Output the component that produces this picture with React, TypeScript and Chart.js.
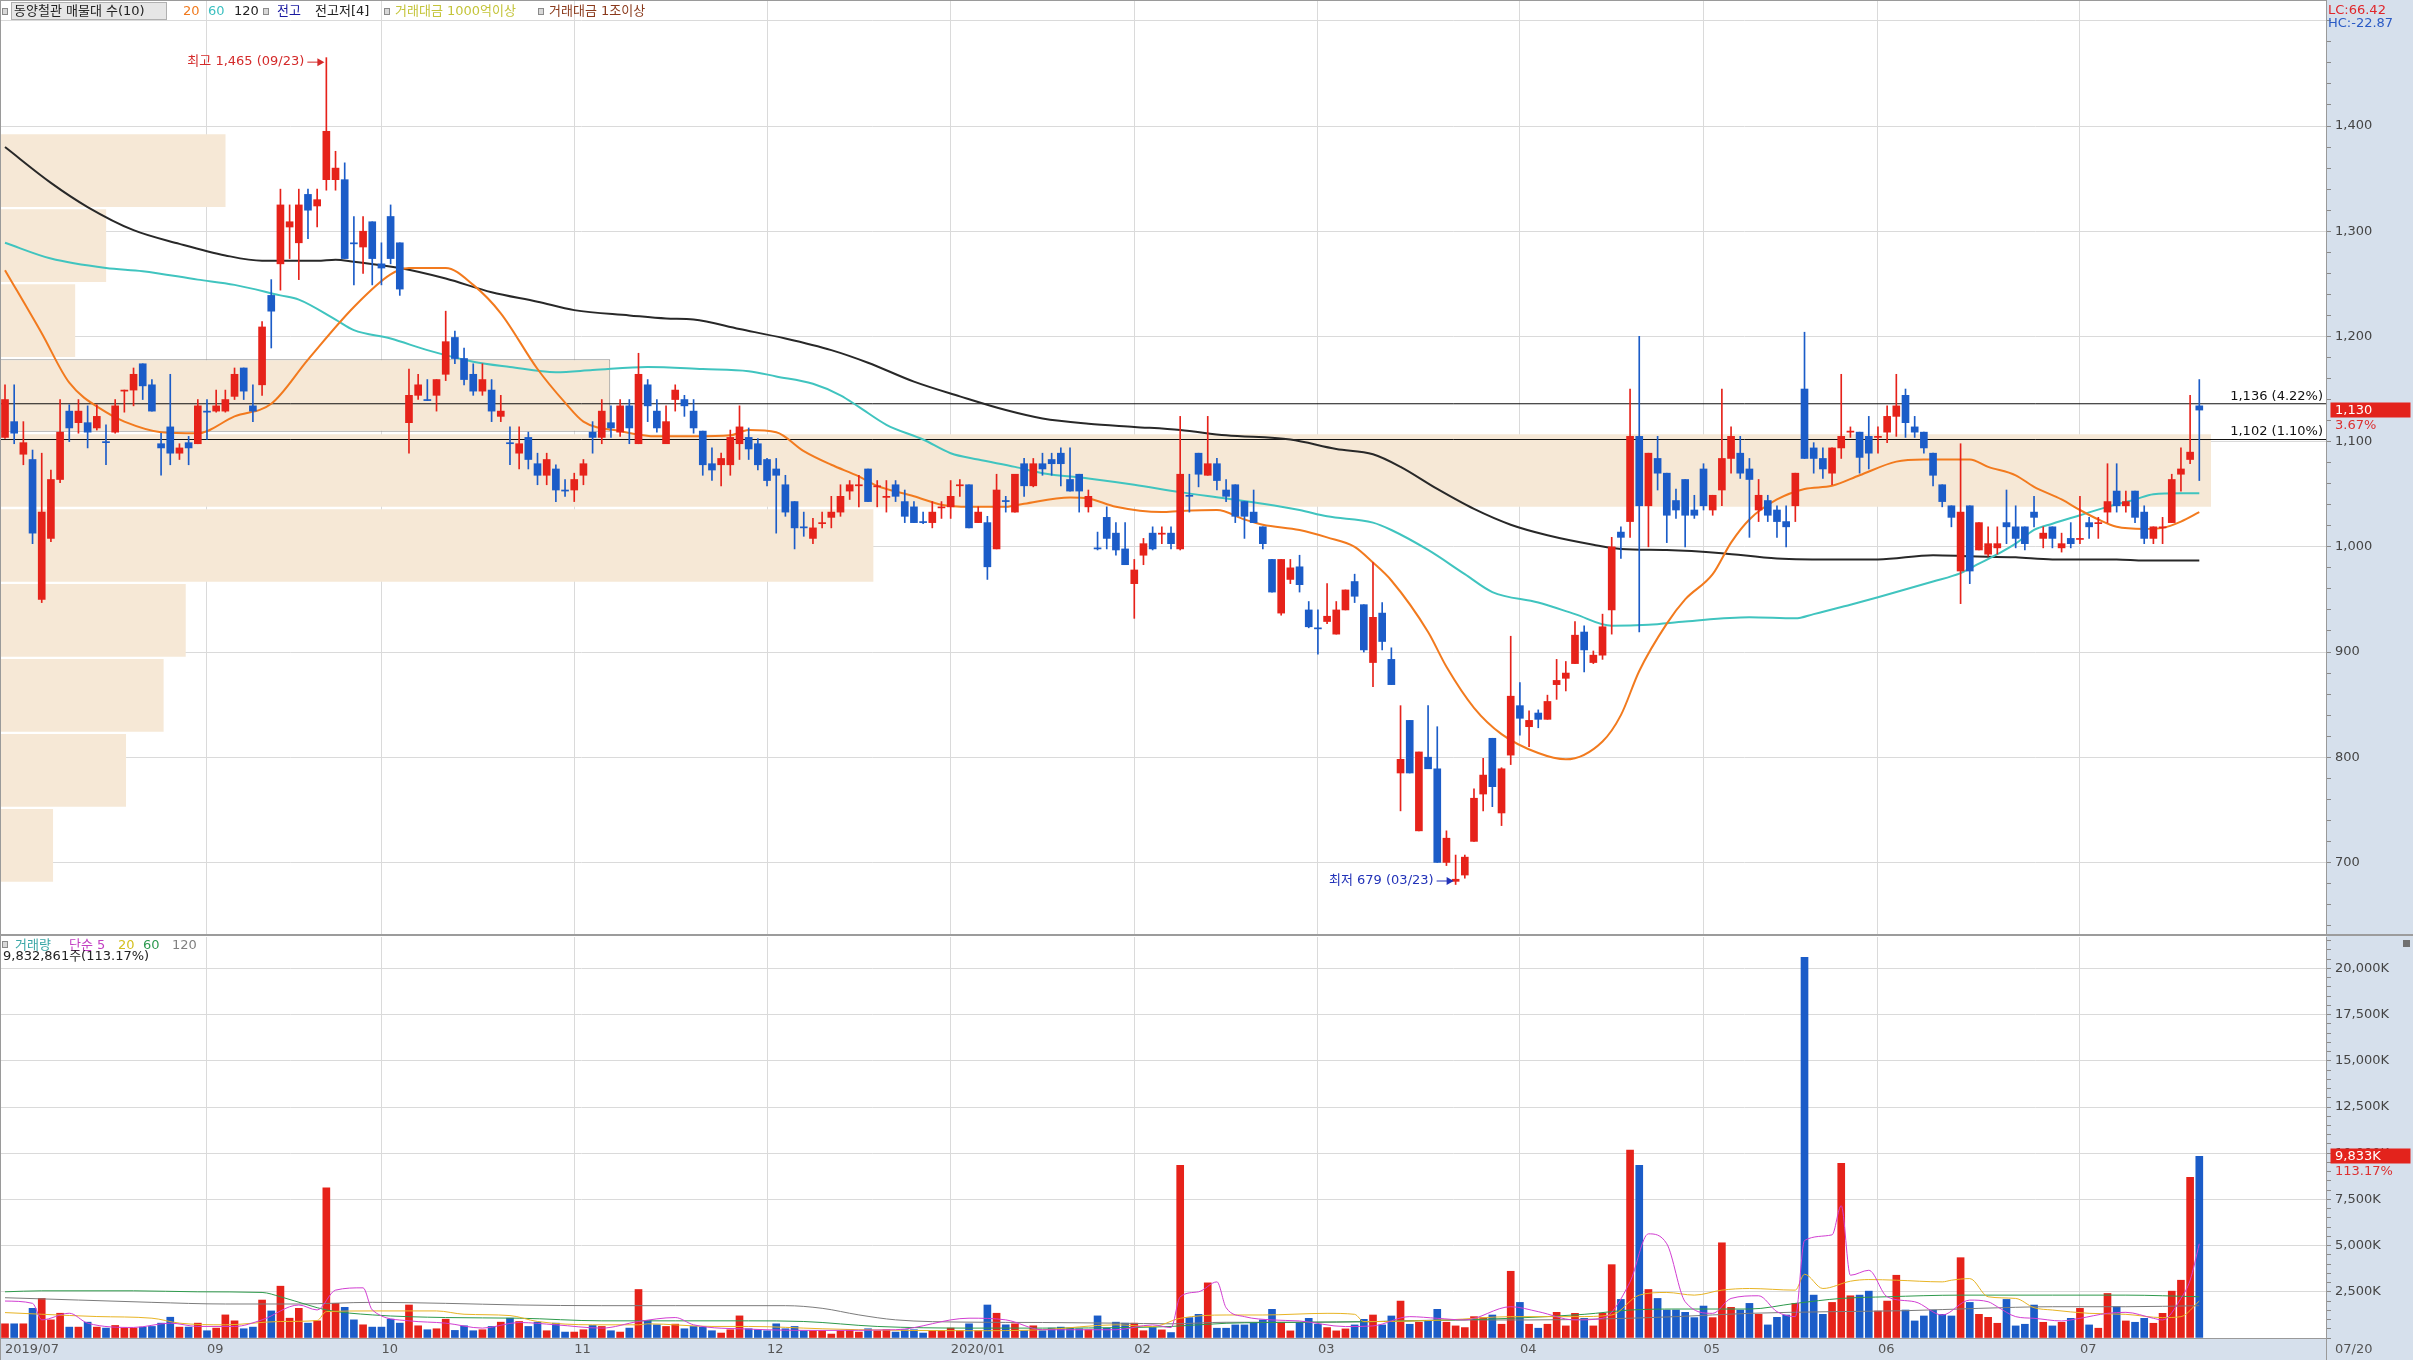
import React, { useEffect, useRef } from 'react';
import { Chart, registerables } from 'chart.js';

Chart.register(...registerables);

// ================= DATA =================
// trading-day index 0 = 2019/07/31 ... 239 = 2020/07/20
const opens = [1104,1119,1088,1083,950,1008,1064,1129,1118,1118,1113,1100,1109,1148,1149,1174,1154,1098,1114,1089,1099,1098,1129,1129,1129,1143,1170,1134,1154,1239,1269,1304,1289,1335,1324,1349,1349,1349,1289,1285,1309,1269,1314,1289,1118,1144,1140,1144,1164,1199,1179,1164,1148,1149,1124,1099,1089,1104,1079,1068,1074,1054,1054,1068,1109,1104,1118,1109,1134,1098,1154,1129,1098,1140,1140,1129,1110,1079,1078,1078,1098,1104,1098,1083,1074,1059,1043,1019,1008,1022,1028,1033,1053,1058,1074,1057,1047,1059,1043,1038,1024,1023,1037,1038,1058,1059,1023,1023,998,1044,1033,1079,1058,1079,1083,1089,1064,1069,1038,999,1028,1013,998,965,992,1013,1012,1013,998,1049,1089,1068,1079,1054,1059,1043,1033,1019,988,937,969,981,940,923,929,917,940,967,945,890,937,893,785,835,730,800,789,700,682,688,720,765,818,747,802,849,829,842,836,869,875,889,919,890,897,940,1014,1024,1105,1039,1084,1070,1044,1064,1035,1074,1035,1054,1084,1089,1074,1035,1044,1035,1024,1039,1150,1094,1084,1070,1094,1109,1109,1105,1104,1109,1124,1144,1114,1109,1089,1059,1039,977,1039,997,993,999,1023,1019,1019,1033,1008,1019,999,1008,1007,1023,1022,1033,1053,1039,1053,1033,1008,1018,1023,1069,1083,1134];
const highs = [1154,1154,1119,1092,1089,1073,1140,1135,1140,1134,1135,1116,1140,1149,1170,1174,1159,1108,1164,1098,1105,1140,1140,1149,1149,1170,1170,1154,1214,1254,1340,1325,1340,1340,1340,1465,1376,1365,1314,1314,1309,1289,1325,1289,1169,1164,1159,1159,1224,1205,1189,1174,1174,1159,1144,1114,1114,1109,1089,1089,1078,1064,1070,1083,1119,1140,1134,1140,1140,1184,1159,1140,1134,1154,1144,1140,1110,1094,1089,1111,1134,1113,1103,1084,1084,1068,1043,1033,1027,1033,1048,1059,1063,1068,1074,1063,1063,1063,1054,1043,1033,1043,1043,1063,1064,1059,1038,1029,1069,1048,1069,1084,1084,1089,1089,1094,1094,1069,1054,1014,1038,1023,1023,988,1008,1019,1019,1019,1124,1069,1089,1124,1084,1064,1059,1043,1054,1019,988,988,988,992,948,940,965,948,959,974,945,985,947,904,849,835,805,849,829,730,707,707,770,799,818,790,915,871,844,845,859,893,891,929,925,901,936,1009,1019,1150,1200,1089,1105,1070,1055,1064,1049,1079,1049,1150,1114,1105,1084,1064,1049,1039,1039,1070,1204,1099,1094,1094,1164,1114,1109,1124,1114,1134,1164,1150,1124,1109,1089,1059,1039,1098,1039,1023,1019,1019,1054,1039,1019,1048,1019,1019,1013,1023,1048,1028,1028,1079,1079,1053,1053,1039,1019,1028,1069,1094,1144,1159];
const lows = [1103,1098,1078,1003,947,1005,1061,1100,1108,1094,1111,1078,1108,1128,1134,1140,1129,1068,1078,1083,1078,1098,1102,1128,1128,1140,1140,1119,1144,1189,1244,1274,1254,1293,1304,1339,1339,1274,1249,1260,1249,1249,1269,1239,1089,1140,1139,1129,1158,1174,1154,1144,1144,1119,1119,1078,1074,1074,1059,1059,1043,1048,1043,1059,1089,1098,1104,1105,1098,1098,1119,1109,1098,1129,1124,1108,1068,1063,1058,1068,1083,1083,1073,1058,1013,1029,998,1010,1003,1018,1018,1029,1045,1038,1043,1038,1033,1043,1023,1023,1022,1018,1027,1027,1048,1018,1023,969,998,1033,1033,1048,1057,1068,1068,1058,1053,1033,1033,997,998,992,983,932,983,997,1003,998,997,1033,1057,1068,1054,1043,1023,1008,1023,998,957,935,965,957,923,898,927,917,940,947,900,867,902,869,749,785,730,789,700,697,679,685,720,749,753,735,793,821,810,828,836,855,863,889,881,889,893,917,989,1009,919,1000,1054,1004,1027,1000,1027,1035,1030,1039,1070,1065,1009,1024,1024,1009,1000,1024,1084,1070,1065,1059,1084,1104,1070,1074,1089,1099,1105,1104,1104,1089,1058,1038,1019,946,965,997,991,993,1003,999,997,1019,999,999,995,999,1003,1008,1008,1023,1033,1033,1023,1003,1003,1003,1023,1053,1079,1063];
const closes = [1140,1108,1099,1013,1033,1064,1109,1113,1129,1109,1124,1099,1134,1149,1164,1153,1129,1094,1089,1094,1094,1134,1128,1134,1140,1164,1148,1129,1209,1224,1325,1309,1325,1320,1330,1395,1360,1274,1288,1300,1274,1265,1274,1245,1144,1154,1139,1159,1195,1179,1159,1148,1159,1129,1129,1098,1098,1083,1068,1083,1054,1053,1064,1079,1104,1129,1113,1134,1113,1164,1134,1113,1119,1149,1134,1113,1078,1073,1084,1104,1114,1093,1078,1063,1068,1033,1018,1018,1018,1023,1033,1048,1059,1059,1043,1058,1048,1048,1029,1023,1023,1033,1038,1048,1059,1018,1033,981,1054,1043,1069,1058,1079,1074,1079,1079,1053,1053,1048,998,1008,997,983,978,1003,998,1013,1003,1069,1048,1069,1079,1063,1048,1029,1029,1023,1003,957,988,980,964,924,922,934,940,959,953,902,933,910,869,798,785,805,789,700,723,684,705,761,783,772,789,858,837,835,836,853,873,880,916,902,897,924,1000,1009,1105,1039,1089,1070,1030,1035,1030,1030,1039,1049,1084,1105,1070,1064,1049,1030,1024,1019,1070,1084,1084,1074,1094,1105,1110,1085,1089,1105,1124,1134,1118,1109,1094,1068,1043,1028,1033,977,1023,1003,1003,1019,1008,1003,1028,1013,1008,1003,1003,1008,1019,1023,1043,1039,1043,1028,1008,1019,1019,1064,1074,1090,1130];
// volume in thousand shares
const volumes = [768,768,768,1607,2143,982,1340,589,589,857,589,536,679,536,536,589,625,804,1125,589,589,804,393,536,1250,929,500,589,2054,1465,2804,1072,1607,804,929,8126,1875,1661,982,714,589,589,1018,804,1786,661,447,500,1018,411,661,393,447,625,857,1072,893,625,857,393,804,321,321,447,679,625,393,321,536,2625,947,714,625,750,500,625,589,393,268,447,1197,500,447,393,768,500,625,393,393,393,214,393,447,321,500,393,447,321,447,447,268,393,393,536,393,768,393,1786,1340,714,768,393,661,393,536,589,536,500,447,1197,536,857,804,804,393,564,439,296,9345,1102,1281,2984,529,529,708,708,797,977,1550,851,385,851,1066,744,564,385,493,708,1012,1245,708,1192,1998,744,851,923,1550,851,654,564,1156,1102,1245,744,3611,1926,744,529,744,1389,654,1335,1066,654,1335,3969,2088,10169,9345,2625,2141,1514,1514,1389,1102,1729,1102,5152,1658,1514,1873,1281,708,1120,1245,1873,20600,2321,1281,1926,9453,2285,2321,2536,1460,1998,3396,1514,923,1192,1514,1281,1192,4346,1926,1281,1120,797,2088,654,744,1783,851,654,851,1066,1604,708,529,2410,1693,923,851,1066,797,1335,2536,3127,8689,9833];

// moving averages: [day index, value]
const ma20 = [[0,1263],[4,1203],[7,1156],[11,1128],[13,1119],[17,1109],[21,1108],[25,1124],[29,1136],[33,1178],[38,1228],[42,1259],[44,1265],[48,1265],[51,1249],[54,1222],[58,1169],[61,1137],[63,1119],[67,1110],[71,1105],[75,1105],[79,1106],[81,1111],[84,1109],[87,1091],[90,1078],[93,1067],[95,1058],[99,1048],[102,1040],[105,1038],[109,1038],[111,1041],[116,1047],[118,1046],[121,1038],[126,1033],[128,1034],[132,1035],[135,1026],[137,1021],[141,1016],[144,1009],[147,1000],[149,985],[151,968],[155,919],[157,886],[160,847],[163,822],[167,804],[170,798],[174,815],[176,840],[178,882],[181,927],[183,950],[186,974],[188,1004],[190,1026],[193,1045],[196,1055],[199,1058],[202,1068],[206,1081],[209,1083],[214,1083],[216,1076],[219,1068],[221,1057],[224,1045],[226,1035],[228,1026],[230,1019],[233,1017],[235,1018],[237,1024],[239,1033]];
const ma60 = [[0,1289],[5,1274],[11,1265],[15,1262],[21,1254],[25,1249],[30,1239],[32,1235],[36,1216],[38,1206],[42,1198],[46,1187],[51,1176],[55,1171],[60,1166],[64,1168],[70,1171],[76,1169],[81,1167],[84,1162],[88,1155],[91,1144],[93,1133],[96,1116],[100,1102],[103,1089],[106,1083],[110,1076],[113,1070],[118,1065],[123,1059],[128,1052],[133,1046],[137,1041],[141,1035],[144,1029],[149,1023],[151,1016],[155,997],[159,974],[162,957],[167,947],[171,936],[175,925],[179,926],[183,929],[190,933],[195,932],[197,936],[201,945],[204,952],[208,962],[210,967],[213,975],[215,984],[217,993],[219,1003],[221,1016],[223,1022],[226,1030],[229,1038],[232,1045],[234,1050],[237,1051],[239,1051]];
const ma120 = [[0,1380],[5,1346],[9,1323],[14,1301],[19,1288],[24,1277],[28,1272],[34,1272],[36,1273],[38,1271],[43,1265],[48,1255],[53,1242],[58,1233],[62,1225],[68,1220],[72,1217],[75,1216],[80,1207],[85,1198],[90,1187],[94,1175],[99,1157],[104,1143],[109,1130],[113,1122],[118,1117],[123,1114],[128,1111],[133,1106],[140,1102],[145,1093],[149,1088],[152,1076],[156,1055],[160,1036],[164,1021],[168,1011],[173,1002],[176,998],[181,997],[187,994],[193,989],[200,988],[204,988],[210,992],[214,991],[219,990],[223,988],[230,988],[233,987],[239,987]];

const vma5 = [[0,2000],[3,1875],[4,982],[7,1340],[9,804],[14,571],[18,804],[21,625],[25,625],[28,982],[32,1786],[34,1518],[36,2590],[39,2715],[40,1518],[44,929],[48,804],[52,536],[56,839],[60,714],[65,536],[69,893],[73,1107],[75,714],[81,482],[89,411],[97,447],[105,1072],[109,982],[113,447],[121,447],[125,708],[127,564],[128,2231],[130,2500],[132,3037],[133,1640],[135,1156],[138,977],[141,923],[146,618],[149,654],[153,1156],[156,1066],[159,977],[164,1693],[167,1425],[171,977],[174,1066],[177,3037],[179,5636],[181,5098],[183,1962],[186,1335],[188,2141],[191,2285],[193,1425],[195,1156],[196,5278],[199,5582],[200,7159],[201,3396],[203,3665],[205,2231],[208,1962],[211,1245],[214,2052],[216,1962],[217,1693],[219,1156],[221,1066],[224,923],[226,1066],[229,1335],[231,1389],[234,1066],[235,977],[237,2141],[238,3127],[239,5098]];
const vma20 = [[0,1375],[4,1286],[10,1161],[16,1072],[19,804],[24,714],[30,893],[34,947],[35,1429],[40,1465],[47,1465],[50,1286],[55,1214],[58,893],[64,714],[69,714],[70,768],[77,625],[81,625],[89,500],[93,447],[105,393],[113,447],[121,714],[125,618],[128,1066],[133,1245],[137,1245],[144,1335],[147,1281],[148,887],[157,977],[164,1156],[171,1156],[175,1245],[178,2320],[181,2464],[184,2320],[187,2590],[190,2679],[195,2590],[196,3450],[198,2679],[201,3073],[203,3163],[206,3127],[211,3037],[212,3127],[214,3216],[216,2231],[219,2141],[221,1640],[223,1514],[227,1335],[231,1281],[235,1102],[237,1156],[239,1998]];
const vma60 = [[0,2500],[4,2554],[14,2554],[21,2500],[28,2465],[30,2232],[33,1786],[35,1518],[40,1250],[48,1107],[56,1072],[65,929],[73,929],[81,929],[87,893],[95,625],[105,536],[113,536],[123,571],[127,625],[133,797],[141,851],[149,887],[158,977],[164,1066],[172,1281],[177,1514],[182,1568],[190,1568],[195,1873],[200,2141],[205,2231],[213,2320],[223,2320],[231,2320],[239,2231]];
const vma120 = [[0,2179],[8,2054],[16,1929],[24,1840],[32,1840],[40,1929],[48,1875],[56,1786],[65,1750],[73,1750],[85,1750],[89,1607],[93,1250],[97,982],[105,857],[113,839],[121,804],[127,768],[133,851],[141,851],[149,887],[158,977],[166,977],[174,1030],[182,1156],[190,1335],[199,1425],[207,1478],[215,1604],[223,1693],[231,1693],[239,1747]];

// volume profile (매물대): price bin edges (low→high) and relative volume per bin
const profileEdges = [680.5,751.8,823.1,894.4,965.6,1036.9,1108.2,1179.5,1250.7,1322.0,1393.3];
const profileVolumes = [2.4,5.7,7.4,8.4,39.5,100,27.6,3.4,4.8,10.2];

// prior-high reference lines (전고)
const refLevels = [1136, 1102];

// date axis
const monthTickIdx = [0,22,41,62,83,103,123,143,165,185,204,226];
const monthTickLabels = ['2019/07','09','10','11','12','2020/01','02','03','04','05','06','07'];
const highDate = '09/23';
const lowDate = '03/23';
const lastDateLabel = '07/20';

// ================= LAYOUT / STYLE =================
const W = 2413;
const PRICE_H = 935;
const VOL_H = 425;
const AXIS_W = 87;
const X_MIN = -0.545;
const X_MAX = 252.8;
const P_MIN = 631;
const P_MAX = 1519.8;
const V_MAX = 21700;
const PROFILE_MAX = 105.2;

const FONT = '"DejaVu Sans", "Noto Sans CJK KR", sans-serif';
const UP = '#e6221a';
const DOWN = '#1b5cc8';
const GRID = '#dadada';
const AXIS_BG = '#d6e0ec';
const AXIS_TEXT = '#454545';

const fmt = (n: number) => n.toLocaleString('en-US');
const idx = closes.map((_, i) => i);
const candleColor = (i: number) => (closes[i] >= opens[i] ? UP : DOWN);
const toXY = (arr: number[][]) => arr.map(([x, y]) => ({ x, y }));
const stepTicks = (a: number, b: number, s: number) => {
  const r: { value: number }[] = [];
  for (let v = a; v <= b + 1e-9; v += s) r.push({ value: v });
  return r;
};
const noPad = (s: any) => {
  s.paddingTop = 0;
  s.paddingBottom = 0;
  s.paddingLeft = 0;
  s.paddingRight = 0;
};

const lastClose = closes[closes.length - 1];
const prevClose = closes[closes.length - 2];
const lastVol = volumes[volumes.length - 1];
const prevVol = volumes[volumes.length - 2];
const pctTxt = (v: number, base: number) => ((v / base - 1) * 100).toFixed(2);
const curBin = profileEdges.findIndex((e, k) => k < profileEdges.length - 1 && lastClose >= e && lastClose < profileEdges[k + 1]);

const xScaleBase = {
  type: 'linear' as const,
  min: X_MIN,
  max: X_MAX,
  offset: false,
  afterBuildTicks: (s: any) => { s.ticks = monthTickIdx.map((v) => ({ value: v })); },
};
const gridColorX = (ctx: any) => (ctx.tick && ctx.tick.value === 0 ? 'rgba(0,0,0,0)' : GRID);

const bgPlugin = (withStrip: boolean) => ({
  id: 'bg',
  beforeDraw(chart: any) {
    const { ctx, chartArea, width, height } = chart;
    ctx.save();
    ctx.fillStyle = '#ffffff';
    ctx.fillRect(0, 0, width, height);
    ctx.fillStyle = AXIS_BG;
    ctx.fillRect(chartArea.right, 0, width - chartArea.right, height);
    if (withStrip) ctx.fillRect(0, chartArea.bottom, width, height - chartArea.bottom);
    ctx.restore();
  },
});

function drawMarker(ctx: CanvasRenderingContext2D, text: string, color: string, px: number, py: number) {
  ctx.save();
  ctx.font = `13px ${FONT}`;
  ctx.fillStyle = color;
  ctx.strokeStyle = color;
  ctx.textAlign = 'right';
  ctx.textBaseline = 'middle';
  ctx.fillText(text, px - 22, py);
  ctx.lineWidth = 1;
  ctx.beginPath();
  ctx.moveTo(px - 19, py + 0.5);
  ctx.lineTo(px - 7, py + 0.5);
  ctx.stroke();
  ctx.beginPath();
  ctx.moveTo(px - 2, py + 0.5);
  ctx.lineTo(px - 9, py - 3.5);
  ctx.lineTo(px - 9, py + 4.5);
  ctx.closePath();
  ctx.fill();
  ctx.restore();
}

const priceAnnot = {
  id: 'priceAnnot',
  afterDraw(chart: any) {
    const { ctx, chartArea } = chart;
    const x = chart.scales.x;
    const y = chart.scales.y;
    ctx.save();
    ctx.font = `13px ${FONT}`;
    ctx.fillStyle = '#111';
    ctx.textAlign = 'right';
    ctx.textBaseline = 'bottom';
    refLevels.forEach((lv) => {
      ctx.fillText(`${fmt(lv)} (${pctTxt(lv, prevClose)}%)`, chartArea.right - 3, y.getPixelForValue(lv) - 1);
    });
    ctx.restore();

    const hiVal = Math.max(...highs);
    const hiIdx = highs.indexOf(hiVal);
    const loVal = Math.min(...lows);
    const loIdx = lows.indexOf(loVal);
    drawMarker(ctx, `최고 ${fmt(hiVal)} (${highDate})`, '#d42a2a', x.getPixelForValue(hiIdx), y.getPixelForValue(hiVal) + 4);
    drawMarker(ctx, `최저 ${fmt(loVal)} (${lowDate})`, '#2232b8', x.getPixelForValue(loIdx), y.getPixelForValue(loVal) - 4);

    const yy = y.getPixelForValue(lastClose);
    ctx.save();
    ctx.fillStyle = '#e3231c';
    ctx.fillRect(chartArea.right + 4.5, Math.round(yy) - 7.5, 80, 15);
    ctx.font = `13px ${FONT}`;
    ctx.textAlign = 'left';
    ctx.textBaseline = 'middle';
    ctx.fillStyle = '#ffffff';
    ctx.fillText(fmt(lastClose), chartArea.right + 9, yy + 0.5);
    ctx.fillStyle = '#dc3030';
    ctx.fillText(`${pctTxt(lastClose, prevClose)}%`, chartArea.right + 9, yy + 15.5);
    ctx.restore();
  },
};

const volAnnot = {
  id: 'volAnnot',
  afterDraw(chart: any) {
    const { ctx, chartArea, height } = chart;
    const y = chart.scales.y;
    const yy = y.getPixelForValue(lastVol);
    ctx.save();
    ctx.fillStyle = '#e3231c';
    ctx.fillRect(chartArea.right + 4.5, Math.round(yy) - 7.5, 80, 15);
    ctx.font = `13px ${FONT}`;
    ctx.textAlign = 'left';
    ctx.textBaseline = 'middle';
    ctx.fillStyle = '#ffffff';
    ctx.fillText(`${fmt(lastVol)}K`, chartArea.right + 9, yy + 0.5);
    ctx.fillStyle = '#dc3030';
    ctx.fillText(`${((lastVol / prevVol) * 100).toFixed(2)}%`, chartArea.right + 9, yy + 15.5);
    ctx.fillStyle = '#555';
    ctx.fillText(lastDateLabel, chartArea.right + 9, (chartArea.bottom + height) / 2 + 1);
    ctx.strokeStyle = '#9a9a9a';
    ctx.lineWidth = 1;
    ctx.beginPath();
    ctx.moveTo(chartArea.right + 0.5, chartArea.bottom);
    ctx.lineTo(chartArea.right + 0.5, height);
    ctx.stroke();
    ctx.restore();
  },
};

function lineDs(data: number[][], color: string, width: number, order: number) {
  return {
    type: 'line' as const,
    data: toXY(data),
    borderColor: color,
    borderWidth: width,
    pointRadius: 0,
    cubicInterpolationMode: 'monotone' as const,
    fill: false,
    order,
    xAxisID: 'x',
    yAxisID: 'y',
  };
}

function priceConfig(): any {
  return {
    type: 'bar',
    data: {
      datasets: [
        {
          type: 'bar',
          label: 'body',
          data: idx.map((i) => ({ x: i, y: [opens[i], closes[i]] })),
          backgroundColor: idx.map(candleColor),
          borderWidth: 0,
          barThickness: 7,
          minBarLength: 1,
          grouped: false,
          order: 0,
          xAxisID: 'x',
          yAxisID: 'y',
        },
        {
          type: 'bar',
          label: 'wick',
          data: idx.map((i) => ({ x: i, y: [lows[i], highs[i]] })),
          backgroundColor: idx.map(candleColor),
          borderWidth: 0,
          barThickness: 1,
          minBarLength: 1,
          grouped: false,
          order: 1,
          xAxisID: 'x',
          yAxisID: 'y',
        },
        lineDs(ma20, '#f27a1e', 2, 2),
        lineDs(ma60, '#40c4bf', 2, 3),
        lineDs(ma120, '#282828', 2, 4),
        ...refLevels.map((lv) => ({
          type: 'line',
          data: [{ x: X_MIN, y: lv }, { x: X_MAX, y: lv }],
          borderColor: '#111',
          borderWidth: 1,
          pointRadius: 0,
          order: 5,
          xAxisID: 'x',
          yAxisID: 'y',
        })),
        {
          type: 'bar',
          label: 'profile',
          indexAxis: 'y',
          data: profileVolumes.map((v, k) => ({ x: v, y: (profileEdges[k] + profileEdges[k + 1]) / 2 })),
          backgroundColor: '#f6e8d6',
          borderColor: (c: any) => (c.dataIndex === curBin ? '#8f8f8f' : 'rgba(0,0,0,0)'),
          borderWidth: (c: any) => (c.dataIndex === curBin ? 1 : 0),
          categoryPercentage: 0.97,
          barPercentage: 1,
          grouped: false,
          order: 10,
          xAxisID: 'xp',
          yAxisID: 'yp',
        },
      ],
    },
    options: {
      responsive: false,
      animation: false,
      devicePixelRatio: 1,
      events: [],
      layout: { padding: 0, autoPadding: false },
      plugins: { legend: { display: false }, tooltip: { enabled: false } },
      scales: {
        x: {
          ...xScaleBase,
          ticks: { display: false },
          grid: { color: gridColorX, drawTicks: false, offset: false },
          border: { display: false },
          afterFit: (s: any) => { s.height = 0; noPad(s); },
        },
        y: {
          type: 'linear',
          position: 'right',
          min: P_MIN,
          max: P_MAX,
          afterBuildTicks: (s: any) => { s.ticks = stepTicks(640, 1500, 20); },
          ticks: {
            autoSkip: false,
            padding: 4,
            color: AXIS_TEXT,
            font: { family: FONT, size: 13 },
            callback: (v: number) => (v % 100 === 0 && v < 1500 ? fmt(v) : ''),
          },
          grid: {
            color: (c: any) => (c.tick && c.tick.value % 100 === 0 ? GRID : 'rgba(0,0,0,0)'),
            tickColor: '#8a8a8a',
            tickLength: 5,
          },
          border: { color: '#9a9a9a' },
          afterFit: (s: any) => { s.width = AXIS_W; noPad(s); },
        },
        xp: { type: 'linear', display: false, min: 0, max: PROFILE_MAX, offset: false },
        yp: {
          type: 'linear',
          display: false,
          min: P_MIN,
          max: P_MAX,
          offset: false,
          afterBuildTicks: (s: any) => {
            s.ticks = profileEdges.slice(0, -1).map((e, k) => ({ value: (e + profileEdges[k + 1]) / 2 }));
          },
        },
      },
    },
    plugins: [bgPlugin(false), priceAnnot],
  };
}

function volConfig(): any {
  return {
    type: 'bar',
    data: {
      datasets: [
        {
          type: 'bar',
          data: idx.map((i) => ({ x: i, y: volumes[i] })),
          backgroundColor: idx.map(candleColor),
          borderWidth: 0,
          barThickness: 7,
          grouped: false,
          order: 10,
        },
        lineDs(vma120, '#7c7c7c', 1, 4),
        lineDs(vma60, '#2e9a4c', 1, 3),
        lineDs(vma20, '#e8b424', 1, 2),
        lineDs(vma5, '#d23ed2', 1, 1),
      ],
    },
    options: {
      responsive: false,
      animation: false,
      devicePixelRatio: 1,
      events: [],
      layout: { padding: { top: 2, left: 0, right: 0, bottom: 0 }, autoPadding: false },
      plugins: { legend: { display: false }, tooltip: { enabled: false } },
      scales: {
        x: {
          ...xScaleBase,
          ticks: {
            autoSkip: false,
            maxRotation: 0,
            align: 'start',
            padding: 4,
            color: '#555',
            font: { family: FONT, size: 13 },
            callback: (_v: number, i: number) => monthTickLabels[i] ?? '',
          },
          grid: { color: gridColorX, drawTicks: false, offset: false },
          border: { color: '#9a9a9a' },
          afterFit: (s: any) => { s.height = 22; noPad(s); },
        },
        y: {
          type: 'linear',
          position: 'right',
          min: 0,
          max: V_MAX,
          afterBuildTicks: (s: any) => { s.ticks = stepTicks(0, 21500, 500); },
          ticks: {
            autoSkip: false,
            padding: 4,
            color: AXIS_TEXT,
            font: { family: FONT, size: 13 },
            callback: (v: number) => (v % 2500 === 0 && v > 0 ? `${fmt(v)}K` : ''),
          },
          grid: {
            color: (c: any) => (c.tick && c.tick.value % 2500 === 0 && c.tick.value > 0 ? GRID : 'rgba(0,0,0,0)'),
            tickColor: '#8a8a8a',
            tickLength: 5,
          },
          border: { color: '#9a9a9a' },
          afterFit: (s: any) => { s.width = AXIS_W; noPad(s); },
        },
      },
    },
    plugins: [bgPlugin(true), volAnnot],
  };
}

const txt = (left: number, top: number, color: string, text: string) => (
  <span
    style={{
      position: 'absolute',
      left,
      top,
      color,
      fontFamily: FONT,
      fontSize: 13,
      lineHeight: '14px',
      whiteSpace: 'nowrap',
    }}
  >
    {text}
  </span>
);

const sq = (left: number, top: number) => (
  <div style={{ position: 'absolute', left, top, width: 4, height: 5, border: '1px solid #8a8a8a', background: '#d8d8d8' }} />
);

export default function App() {
  const priceRef = useRef<HTMLCanvasElement>(null);
  const volRef = useRef<HTMLCanvasElement>(null);

  useEffect(() => {
    document.body.style.margin = '0';
    const pc = new Chart(priceRef.current as HTMLCanvasElement, priceConfig());
    const vc = new Chart(volRef.current as HTMLCanvasElement, volConfig());
    return () => {
      pc.destroy();
      vc.destroy();
    };
  }, []);

  return (
    <div style={{ position: 'relative', width: W, height: PRICE_H + VOL_H, overflow: 'hidden', background: '#fff' }}>
      <canvas ref={priceRef} width={W} height={PRICE_H} style={{ position: 'absolute', left: 0, top: 0 }} />
      <canvas ref={volRef} width={W} height={VOL_H} style={{ position: 'absolute', left: 0, top: PRICE_H }} />

      {/* frame lines */}
      <div style={{ position: 'absolute', left: 0, top: 0, width: W - AXIS_W, height: 1, background: '#9a9a9a' }} />
      <div style={{ position: 'absolute', left: 0, top: 0, width: 1, height: PRICE_H + VOL_H, background: '#9a9a9a' }} />
      <div style={{ position: 'absolute', left: 0, top: PRICE_H - 1, width: W, height: 2, background: '#9c9c9c' }} />

      {/* price legend */}
      {sq(2, 8)}
      <div style={{ position: 'absolute', left: 11, top: 2, width: 154, height: 16, background: '#e6e6e6', border: '1px solid #b0b0b0' }} />
      {txt(14, 4, '#222', '동양철관 매물대 수(10)')}
      {txt(183, 4, '#f07a1e', '20')}
      {txt(208, 4, '#3cc0c0', '60')}
      {txt(234, 4, '#222', '120')}
      {sq(263, 8)}
      {txt(277, 4, '#1a1aa0', '전고')}
      {txt(315, 4, '#222', '전고저[4]')}
      {sq(384, 8)}
      {txt(395, 4, '#c4c43a', '거래대금 1000억이상')}
      {sq(538, 8)}
      {txt(549, 4, '#8a3a1c', '거래대금 1조이상')}

      {/* right-axis notes */}
      {txt(2328, 3, '#e0262a', 'LC:66.42')}
      {txt(2328, 16, '#2a5bc5', 'HC:-22.87')}

      {/* volume legend */}
      {sq(2, 941)}
      {txt(15, 938, '#3aa6a6', '거래량')}
      {txt(69, 938, '#c23ec2', '단순 5')}
      {txt(118, 938, '#d4c020', '20')}
      {txt(143, 938, '#2e9a50', '60')}
      {txt(172, 938, '#808080', '120')}
      {txt(3, 949, '#222', '9,832,861주(113.17%)')}
      <div style={{ position: 'absolute', left: 2403, top: 940, width: 7, height: 7, background: '#707070' }} />
    </div>
  );
}
